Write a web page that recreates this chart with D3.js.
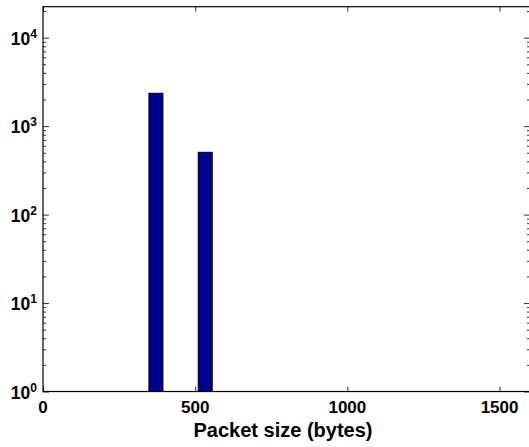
<!DOCTYPE html>
<html>
<head>
<meta charset="utf-8">
<script src="https://cdn.jsdelivr.net/npm/d3@7"></script>
<style>
  html, body { margin: 0; padding: 0; background: #fff; }
  svg { display: block; }
  text { font-family: "Liberation Sans", Arial, Helvetica, sans-serif; font-weight: bold; fill: #000; }
</style>
</head>
<body>
<svg id="chart" width="529" height="447"></svg>
<script>
// Histogram of packet sizes (log-scaled counts)
const binCenters = [371, 533];      // bytes
const binCounts  = [2350, 506];     // packets
const binWidth   = 46;              // bytes drawn per bar
const xTicks     = [0, 500, 1000, 1500];
const yExponents = [0, 1, 2, 3, 4];
const xLabel     = "Packet size (bytes)";

const m = { left: 43, right: 530, top: 6.7, bottom: 391.5 };

const svg = d3.select("#chart");

const x = d3.scaleLinear().domain([0, 1600]).range([m.left, m.right]);
const y = d3.scaleLog().domain([1, 22400]).range([m.bottom, m.top]);

// bars
svg.append("g").selectAll("rect")
  .data(binCenters.map((c, i) => ({ c, n: binCounts[i] })))
  .join("rect")
  .attr("x", d => x(d.c - binWidth / 2))
  .attr("width", d => x(d.c + binWidth / 2) - x(d.c - binWidth / 2))
  .attr("y", d => y(d.n))
  .attr("height", d => y(1) - y(d.n))
  .attr("fill", "#00008f")
  .attr("stroke", "#000")
  .attr("stroke-width", 1);

// minor and major log ticks
const minorVals = [];
yExponents.forEach(e => { if (e < 4) for (let k = 2; k <= 9; k++) minorVals.push(k * Math.pow(10, e)); });
minorVals.push(2e4);
const majorVals = yExponents.map(e => Math.pow(10, e));

function tickGroup(axis, tx, ty) {
  const g = svg.append("g").attr("transform", `translate(${tx},${ty})`).call(axis);
  g.select(".domain").remove();
  g.selectAll("line").attr("stroke", "#333");
  return g;
}
// left axis ticks (inward)
tickGroup(d3.axisRight(y).tickValues(minorVals).tickSize(3).tickFormat(""), m.left, 0);
tickGroup(d3.axisRight(y).tickValues(majorVals).tickSize(6).tickFormat(""), m.left, 0);
// right axis ticks (inward)
tickGroup(d3.axisLeft(y).tickValues(minorVals).tickSize(3).tickFormat(""), m.right, 0);
tickGroup(d3.axisLeft(y).tickValues(majorVals).tickSize(6).tickFormat(""), m.right, 0);
// bottom and top x ticks (inward)
tickGroup(d3.axisTop(x).tickValues(xTicks).tickSize(5).tickFormat(""), 0, m.bottom);
tickGroup(d3.axisBottom(x).tickValues(xTicks).tickSize(5).tickFormat(""), 0, m.top);

// axes frame
svg.append("rect")
  .attr("x", m.left).attr("y", m.top)
  .attr("width", m.right - m.left).attr("height", m.bottom - m.top)
  .attr("fill", "none").attr("stroke", "#000").attr("stroke-width", 1.2);

// x tick labels
svg.append("g").selectAll("text")
  .data(xTicks).join("text")
  .attr("x", d => x(d)).attr("y", 413)
  .attr("text-anchor", "middle")
  .style("font-size", "17px")
  .text(d => d);

// y tick labels: 10 with superscript exponent
const yl = svg.append("g").selectAll("text")
  .data(yExponents).join("text")
  .attr("x", 37).attr("y", d => y(Math.pow(10, d)) + 7)
  .attr("text-anchor", "end")
  .style("font-size", "17.5px");
yl.append("tspan").text("10");
yl.append("tspan").attr("dy", -7).style("font-size", "12px").text(d => d);

// x axis label
svg.append("text")
  .attr("x", 283).attr("y", 436.5)
  .attr("text-anchor", "middle")
  .style("font-size", "20px")
  .text(xLabel);
</script>
</body>
</html>
